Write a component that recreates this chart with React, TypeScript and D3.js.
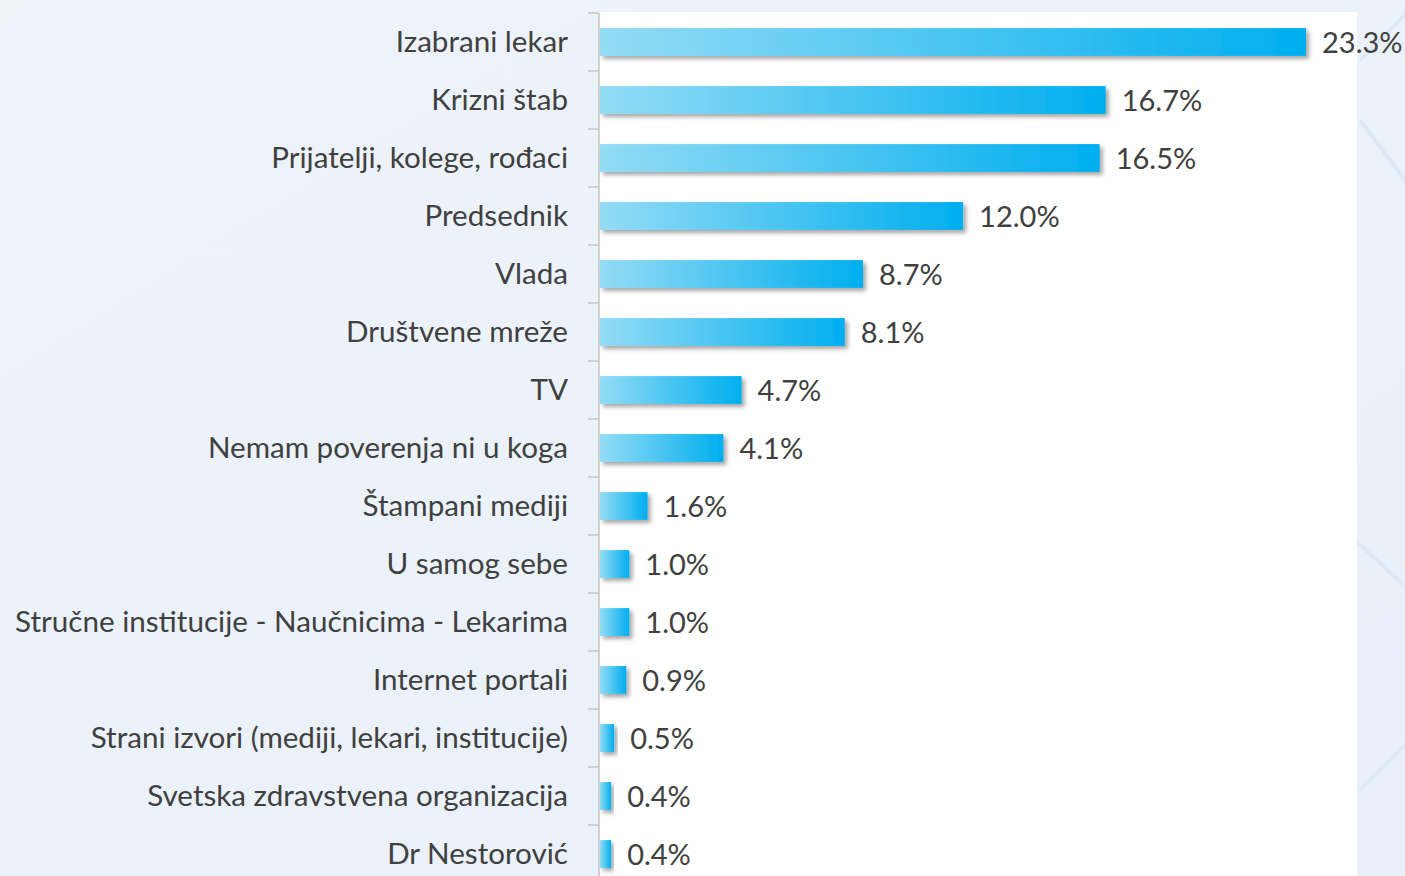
import React from "react";
import * as d3 from "d3";

const categories = [
  "Izabrani lekar",
  "Krizni štab",
  "Prijatelji, kolege, rođaci",
  "Predsednik",
  "Vlada",
  "Društvene mreže",
  "TV",
  "Nemam poverenja ni u koga",
  "Štampani mediji",
  "U samog sebe",
  "Stručne institucije - Naučnicima - Lekarima",
  "Internet portali",
  "Strani izvori (mediji, lekari, institucije)",
  "Svetska zdravstvena organizacija",
  "Dr Nestorović",
];
const values = [23.3, 16.7, 16.5, 12.0, 8.7, 8.1, 4.7, 4.1, 1.6, 1.0, 1.0, 0.9, 0.5, 0.4, 0.4];

const W = 1405;
const H = 876;
const axisX = 599;
const top = 13;
const band = 58;

export default function App() {
  const x = d3.scaleLinear().domain([0, 23.3]).range([axisX, 1306]);
  const y = d3
    .scaleBand<string>()
    .domain(categories)
    .range([top, top + band * categories.length])
    .paddingInner(0.52)
    .paddingOuter(0.26);
  const bw = y.bandwidth();
  const step = y.step();
  const font = "Lato, 'Open Sans', sans-serif";

  return (
    <div style={{ position: "fixed", left: 0, top: 0, width: W, height: H, overflow: "hidden" }}>
      <svg width={W} height={H} style={{ display: "block" }}>
        <defs>
          <linearGradient id="bg" x1="0" y1="0" x2="1" y2="1">
            <stop offset="0" stopColor="#eef3fa" />
            <stop offset="1" stopColor="#e9f0f9" />
          </linearGradient>
          <linearGradient id="barGrad" x1="0" y1="0" x2="1" y2="0">
            <stop offset="0" stopColor="#93dcf5" />
            <stop offset="1" stopColor="#00aeef" />
          </linearGradient>
          <filter id="shadow" x="-10%" y="-30%" width="130%" height="190%">
            <feDropShadow dx="3" dy="3" stdDeviation="2" floodColor="#000" floodOpacity="0.35" />
          </filter>
        </defs>
        <rect x={0} y={0} width={W} height={H} fill="url(#bg)" />
        <g stroke="#dde7f3" strokeWidth={4} opacity={0.8} fill="none">
          <line x1={1360} y1={60} x2={1420} y2={0} />
          <line x1={1360} y1={120} x2={1420} y2={200} />
          <line x1={1355} y1={540} x2={1420} y2={600} />
          <line x1={1360} y1={790} x2={1420} y2={730} />
        </g>
        <rect x={axisX} y={12} width={1357 - axisX} height={H} fill="#ffffff" />
        <line x1={axisX} y1={top} x2={axisX} y2={H} stroke="#c4c4c4" strokeWidth={1.5} />
        {categories.map((c, i) => (
          <line
            key={"t" + i}
            x1={588}
            x2={axisX}
            y1={top + i * step}
            y2={top + i * step}
            stroke="#c4c4c4"
            strokeWidth={1.5}
          />
        ))}
        {categories.map((c, i) => {
          const yy = y(c) as number;
          const xe = x(values[i]);
          return (
            <g key={c}>
              <rect
                x={axisX + 1}
                y={yy}
                width={xe - axisX - 1}
                height={bw}
                fill="url(#barGrad)"
                filter="url(#shadow)"
              />
              <text
                x={568}
                y={yy + bw / 2 - 2}
                textAnchor="end"
                dominantBaseline="central"
                fontFamily={font}
                fontSize={29.6}
                fill="#404040"
              >
                {c}
              </text>
              <text
                x={xe + 16}
                y={yy + bw / 2 - 0.5}
                dominantBaseline="central"
                fontFamily={font}
                fontSize={29}
                fill="#404040"
              >
                {values[i].toFixed(1) + "%"}
              </text>
            </g>
          );
        })}
      </svg>
    </div>
  );
}
